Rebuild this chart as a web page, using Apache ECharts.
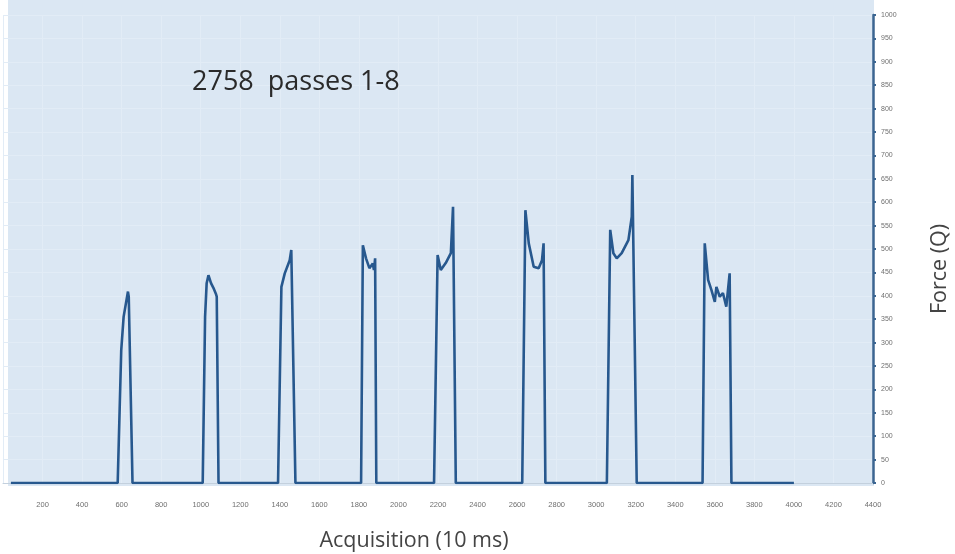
<!DOCTYPE html>
<html>
<head>
<meta charset="utf-8">
<script src="https://cdn.jsdelivr.net/npm/echarts@6/dist/echarts.min.js"></script>
<style>
html,body{margin:0;padding:0;background:#ffffff;}
#chart{width:955px;height:554px;}
</style>
</head>
<body>
<div id="chart"></div>
<script>
// Acquisition (10 ms) and Force (Q) samples
const acquisition = [
  40, 580, 598, 610, 632, 636, 655,
  1010, 1022, 1030, 1039, 1052, 1064, 1076, 1081, 1090,
  1391, 1408, 1425, 1450, 1458, 1479,
  1811, 1820, 1836, 1853, 1870, 1876, 1882, 1888,
  2180, 2198, 2214, 2239, 2265, 2276, 2290,
  2626, 2642, 2659, 2684, 2709, 2726, 2734, 2743,
  3054, 3071, 3087, 3104, 3129, 3163, 3180, 3183, 3205,
  3538, 3549, 3566, 3583, 3600, 3608, 3625, 3641, 3658, 3675, 3684,
  4000
];
const force = [
  0, 0, 284, 355, 409, 398, 0,
  0, 355, 427, 444, 427, 417, 405, 398, 0,
  0, 419, 448, 476, 498, 0,
  0, 508, 480, 459, 469, 455, 480, 0,
  0, 487, 455, 470, 491, 590, 0,
  0, 583, 512, 462, 459, 476, 512, 0,
  0, 541, 491, 480, 491, 519, 569, 658, 0,
  0, 512, 434, 412, 387, 419, 398, 406, 377, 448, 0,
  0
];
const xTicks = [200,400,600,800,1000,1200,1400,1600,1800,2000,2200,2400,2600,2800,3000,3200,3400,3600,3800,4000,4200,4400];
const titleText = '2758  passes 1-8';
const xName = 'Acquisition (10 ms)';
const yName = 'Force (Q)';

const points = acquisition.map((x, i) => [x, force[i]]);

const chart = echarts.init(document.getElementById('chart'));
chart.setOption({
  animation: false,
  backgroundColor: '#ffffff',
  graphic: [
    {type: 'rect', z: -10, shape: {x: 8, y: 0, width: 866, height: 486}, style: {fill: '#dbe7f3'}},
    {type: 'text', z: 100, left: 192, top: 69, style: {text: titleText, font: '27px "Open Sans", sans-serif', fill: '#2a2a2a'}},
    {type: 'text', z: 100, x: 414, y: 541, style: {text: xName, font: '21.5px "Open Sans", sans-serif', fill: '#444', align: 'center', verticalAlign: 'middle'}},
    {type: 'text', z: 100, x: 940, y: 269, rotation: Math.PI / 2, style: {text: yName, font: '21.5px "Open Sans", sans-serif', fill: '#444', align: 'center', verticalAlign: 'middle'}}
  ],
  grid: {left: 1, right: 82, top: 15, bottom: 71, containLabel: false},
  xAxis: {
    type: 'value', min: 0, max: 4400, interval: 200,
    axisLine: {show: true, lineStyle: {color: '#c3d0dd', width: 1}},
    axisTick: {show: false},
    axisLabel: {
      color: '#6f6f6f', fontSize: 7.5, margin: 18,
      formatter: v => (xTicks.indexOf(v) >= 0 ? String(v) : '')
    },
    splitLine: {show: true, lineStyle: {color: '#e2ecf6', width: 1}}
  },
  yAxis: {
    type: 'value', position: 'right', min: 0, max: 1000, interval: 50,
    axisLine: {show: true, onZero: false, lineStyle: {color: '#3b6591', width: 2.5}},
    axisTick: {show: true, inside: false, length: 3, lineStyle: {color: '#3b6591', width: 2}},
    axisLabel: {color: '#6f6f6f', fontSize: 7, margin: 8, formatter: v => String(v)},
    splitLine: {show: true, lineStyle: {color: '#e2ecf6', width: 1}}
  },
  series: [{
    type: 'line',
    data: points,
    showSymbol: false,
    symbol: 'none',
    lineStyle: {color: '#27588e', width: 2.6},
    z: 5
  }]
});
</script>
</body>
</html>
